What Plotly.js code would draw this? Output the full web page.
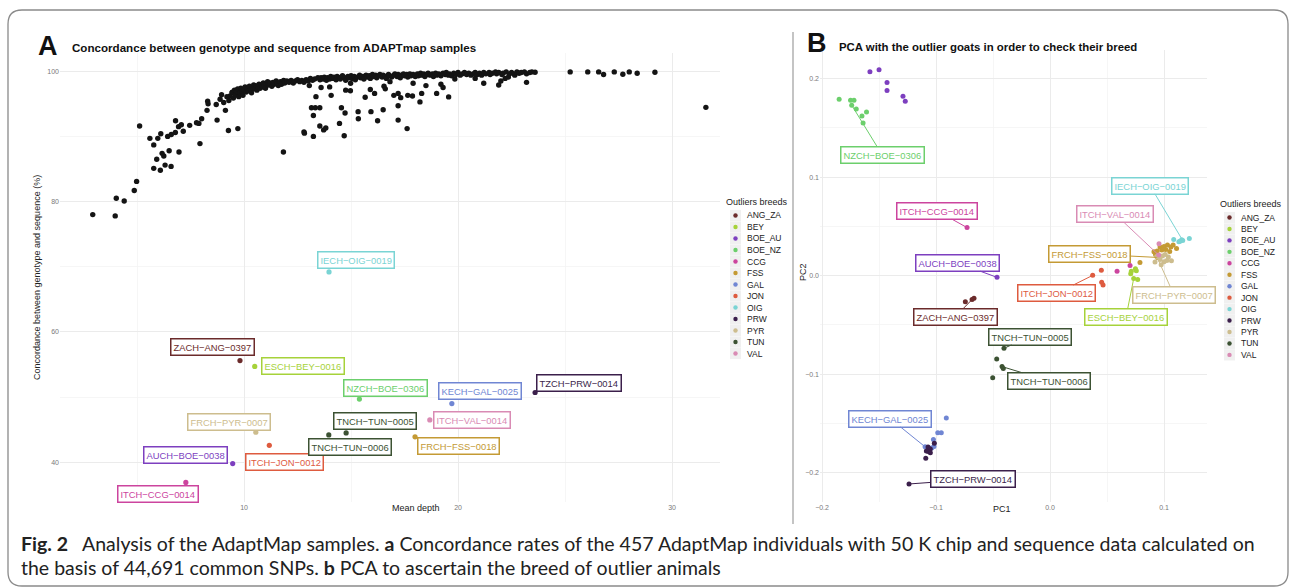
<!DOCTYPE html>
<html>
<head>
<meta charset="utf-8">
<script src="https://cdn.plot.ly/plotly-3.0.1.min.js"></script>
<style>html,body{margin:0;padding:0;background:#fff;}#chart{width:1293px;height:588px;}</style>
</head>
<body>
<div id="chart"></div>
<script>
// ---------- Panel A : black points (mean depth, concordance %) ----------
const depthA = [2.93,3.98,4.03,4.40,4.87,4.98,5.12,5.60,5.78,5.97,6.11,5.78,5.92,6.09,6.17,6.25,6.31,6.50,6.59,6.96,6.43,6.60,6.79,6.80,6.94,7.07,7.16,7.46,7.78,7.94,7.89,8.02,8.27,8.30,8.32,8.74,8.70,8.88,8.95,9.13,9.27,9.29,9.44,9.71,9.05,9.20,11.84,
13.05,13.36,13.15,13.33,13.54,13.24,12.80,12.82,13.24,13.54,13.72,13.82,13.60,14.07,14.00,14.46,14.55,14.72,14.68,14.75,14.98,14.97,15.33,15.34,15.66,15.93,15.90,16.10,16.24,16.50,16.54,16.60,16.82,17.00,17.20,17.20,17.20,17.32,17.62,17.65,17.87,18.22,18.30,19.00,19.56,17.90,18.50,19.20,19.30,19.85,20.80,21.20,21.90,22.00,22.20,22.35,22.65,23.20,
25.24,26.06,26.57,26.80,27.30,27.70,28.00,28.37,29.20,31.58,
9.35,9.45,9.50,9.55,9.60,9.65,9.70,9.75,9.80,9.85,9.90,9.95,10.00,10.05,10.10,10.15,10.20,10.25,10.30,10.35,10.40,10.45,10.50,
10.55,10.60,10.65,10.70,10.75,10.80,10.85,10.90,10.95,11.00,11.05,11.10,11.15,11.20,11.30,11.35,11.40,11.50,11.55,11.60,11.70,11.75,11.85,11.90,12.00,
12.10,12.20,12.30,12.40,12.50,12.60,12.70,12.80,12.90,13.00,13.10,13.20,13.30,13.45,
13.55,13.60,13.70,13.75,13.85,13.90,14.00,14.05,14.15,14.20,14.30,14.35,14.45,14.50,14.60,14.70,14.75,14.85,14.90,15.00,15.05,15.15,15.20,15.30,15.40,15.45,
15.55,15.60,15.70,15.75,15.85,15.90,16.00,16.05,16.15,16.20,16.30,16.35,16.45,16.50,16.60,16.65,16.75,16.80,16.90,17.00,17.05,17.15,17.20,17.30,17.35,17.45,17.50,17.60,17.65,17.75,17.80,17.90,18.00,
18.10,18.15,18.25,18.30,18.40,18.45,18.55,18.60,18.70,18.80,18.85,18.95,19.00,19.10,19.20,19.30,19.40,19.45,19.55,19.60,19.70,19.80,19.90,20.00,20.10,20.20,20.30,20.40,20.50,20.60,20.70,20.80,20.90,
21.00,21.10,21.20,21.30,21.45,21.50,21.60,21.75,21.80,21.90,22.05,22.10,22.25,22.40,22.50,22.60,22.75,22.85,22.95,23.10,23.20,23.35,23.45,23.60];
const concA = [78.0,77.8,80.5,80.1,81.7,83.1,91.6,89.7,88.7,89.7,90.4,85.1,86.5,84.8,87.4,87.0,85.6,87.8,85.4,87.6,90.0,90.3,90.6,92.4,91.5,91.8,90.8,91.7,92.1,88.9,92.0,92.7,94.0,95.4,95.0,92.5,94.9,95.7,96.4,94.0,90.9,95.5,96.7,91.2,95.2,96.1,87.6,
97.8,96.1,94.4,94.4,94.4,93.2,90.7,90.5,90.0,91.6,91.0,91.3,97.5,96.3,97.6,92.0,94.4,93.6,90.1,97.1,98.15,97.0,93.8,92.7,96.0,93.8,97.2,96.6,92.4,94.1,97.7,97.3,98.4,96.3,96.6,94.7,92.5,95.95,91.2,96.3,96.2,95.3,96.6,96.6,96.06,98.15,97.8,98.0,97.5,98.8,98.9,98.15,97.9,98.5,98.9,99.1,99.4,98.3,
99.9,99.9,99.9,99.5,99.9,99.55,99.9,99.7,99.85,94.46,
96.2,96.8,95.9,97.1,96.4,96.9,97.3,96.1,96.7,97.4,96.9,96.3,97.2,97.6,96.8,97.3,97.0,97.7,97.2,96.7,97.5,97.9,97.3,
97.8,97.1,97.6,98.0,97.4,97.9,97.6,98.2,97.8,97.4,98.1,98.4,97.9,98.2,97.7,98.3,98.0,98.5,98.1,97.8,98.4,98.0,98.6,98.2,98.5,
98.3,98.6,98.2,98.5,98.7,98.4,98.6,98.3,98.7,98.5,98.9,98.6,98.8,99.0,
98.7,99.0,98.8,99.1,98.6,99.0,98.8,99.2,98.9,99.1,98.7,99.2,99.0,98.8,99.3,99.0,98.6,99.2,99.0,99.3,98.9,99.2,98.7,99.1,99.4,99.0,
99.2,98.8,99.4,99.1,99.3,98.9,99.5,99.2,99.4,99.0,99.3,99.5,99.1,99.4,99.2,98.9,99.5,99.3,99.1,99.4,99.6,99.2,99.5,99.0,99.4,99.6,99.3,99.5,99.1,99.6,99.3,99.5,99.2,
99.6,99.3,99.7,99.4,99.6,99.2,99.5,99.7,99.4,99.6,99.2,99.7,99.4,99.6,99.3,99.7,99.5,99.8,99.4,99.6,99.3,99.7,99.5,99.8,99.4,99.6,99.8,99.5,99.7,99.4,99.6,99.8,99.5,
99.7,99.4,99.8,99.6,99.8,99.5,99.7,99.9,99.6,99.8,99.5,99.7,99.9,99.6,99.8,99.6,99.9,99.7,99.8,99.9,99.6,99.8,99.9,99.85];

// ---------- Breeds ----------
const breeds = ['ANG_ZA','BEY','BOE_AU','BOE_NZ','CCG','FSS','GAL','JON','OIG','PRW','PYR','TUN','VAL'];
const breedColors = ['#6B2B2B','#A6D23A','#7D3FBF','#6CCF6C','#CC449E','#C49A34','#7086D3','#DE5B3F','#7AD4D4','#3B1F4B','#CDBD8E','#3C5233','#D98BB4'];

// ---------- Panel A : outlier samples ----------
const outIds   = ['ZACH−ANG−0397','ESCH−BEY−0016','NZCH−BOE−0306','FRCH−PYR−0007','ITCH−JON−0012','AUCH−BOE−0038','ITCH−CCG−0014','TNCH−TUN−0005','TNCH−TUN−0006','KECH−GAL−0025','TZCH−PRW−0014','ITCH−VAL−0014','FRCH−FSS−0018','IECH−OIG−0019'];
const outBreed = ['ANG_ZA','BEY','BOE_NZ','PYR','JON','BOE_AU','CCG','TUN','TUN','GAL','PRW','VAL','FSS','OIG'];
const outDepth = [9.81,10.50,15.39,10.55,11.18,9.47,7.28,14.77,13.96,19.71,23.60,18.68,17.99,13.97];
const outConc  = [55.6,54.7,49.7,44.6,42.6,39.8,36.9,44.5,44.2,49.0,50.7,46.5,43.9,69.2];

// ---------- Panel B : PCA ----------
const pcBreed = ['BOE_AU','BOE_AU','BOE_AU','BOE_AU','BOE_AU','BOE_AU','BOE_AU',
 'BOE_NZ','BOE_NZ','BOE_NZ','BOE_NZ','BOE_NZ','BOE_NZ','BOE_NZ','BOE_NZ',
 'CCG','CCG','CCG',
 'ANG_ZA','ANG_ZA','ANG_ZA',
 'TUN','TUN','TUN','TUN','TUN',
 'JON','JON','JON','JON',
 'BEY','BEY','BEY','BEY','BEY','BEY',
 'FSS','FSS','FSS','FSS','FSS','FSS','FSS','FSS','FSS','FSS','FSS','FSS','FSS','FSS',
 'PYR','PYR','PYR','PYR','PYR','PYR','PYR','PYR','PYR','PYR','PYR',
 'VAL','VAL',
 'OIG','OIG','OIG','OIG','OIG','OIG',
 'GAL','GAL','GAL','GAL','GAL','GAL','GAL',
 'PRW','PRW','PRW','PRW','PRW','PRW','PRW','PRW'];
const pc1 = [-0.158,-0.150,-0.143,-0.143,-0.129,-0.127,-0.0465,
 -0.185,-0.175,-0.172,-0.174,-0.170,-0.161,-0.165,-0.164,
 -0.0728,0.0588,0.0702,
 -0.0743,-0.0684,-0.0667,
 -0.0404,-0.0468,-0.0503,-0.0421,-0.0410,
 0.0374,0.0450,0.0453,0.0465,
 0.0749,0.0757,0.0708,0.0713,0.0734,0.0769,
 0.0789,0.0912,0.0965,0.1000,0.1030,0.1060,0.1110,0.0980,0.0940,0.1015,0.0942,0.1050,0.1080,0.0925,
 0.0921,0.0965,0.1000,0.1038,0.0950,0.0985,0.1025,0.1065,0.0936,0.0975,0.1010,
 0.0956,0.0953,
 0.1085,0.1140,0.1155,0.1164,0.1222,0.1130,
 -0.0910,-0.0985,-0.0954,-0.1023,-0.1018,-0.1038,-0.1096,
 -0.1015,-0.1070,-0.1050,-0.1068,-0.1050,-0.1085,-0.1090,-0.1237];
const pc2 = [0.207,0.209,0.196,0.188,0.182,0.177,-0.0017,
 0.179,0.178,0.178,0.173,0.169,0.166,0.162,0.155,
 0.0488,0.0044,0.0104,
 -0.0266,-0.0242,-0.0229,
 -0.0737,-0.0845,-0.1037,-0.0923,-0.0943,
 0.0003,0.0054,-0.0067,-0.0094,
 0.0071,0.0051,0.0020,0.0044,-0.0030,-0.0040,
 0.0134,0.0242,0.0290,0.0295,0.0310,0.0290,0.0275,0.0260,0.0250,0.0265,0.0185,0.0245,0.0310,0.0215,
 0.0138,0.0165,0.0141,0.0189,0.0205,0.0200,0.0155,0.0152,0.0195,0.0110,0.0215,
 0.0323,0.0209,
 0.0367,0.0350,0.0365,0.0357,0.0377,0.0345,
 -0.1444,-0.1593,-0.1593,-0.1663,-0.1734,-0.1750,-0.1737,
 -0.1700,-0.1740,-0.1758,-0.1785,-0.1798,-0.1780,-0.1852,-0.2114];
const pcLabelIds   = ['NZCH−BOE−0306','ITCH−CCG−0014','AUCH−BOE−0038','ZACH−ANG−0397','TNCH−TUN−0005','TNCH−TUN−0006','ITCH−JON−0012','ESCH−BEY−0016','FRCH−FSS−0018','FRCH−PYR−0007','ITCH−VAL−0014','IECH−OIG−0019','KECH−GAL−0025','TZCH−PRW−0014'];
const pcLabelBreed = ['BOE_NZ','CCG','BOE_AU','ANG_ZA','TUN','TUN','JON','BEY','FSS','PYR','VAL','OIG','GAL','PRW'];
const pcLabelPC1   = [-0.174,-0.0728,-0.0465,-0.0684,-0.0404,-0.0421,0.0374,0.0734,0.0942,0.0936,0.0953,0.1164,-0.1096,-0.1237];
const pcLabelPC2   = [0.173,0.0488,-0.0017,-0.0242,-0.0737,-0.0923,0.0003,-0.0030,0.0185,0.0195,0.0209,0.0357,-0.1737,-0.2114];

// ---------- layout helpers (positions/styles) ----------
const W = 1293, H = 588;
const px = v => v / W, py = v => 1 - v / H;
const colorOf = b => breedColors[breeds.indexOf(b)];
const labelFont = 'Liberation Sans, Arial, sans-serif';

// label box centres for panel A (data units)
const labelPosA = [[8.52,57.7],[12.74,54.7],[16.59,51.4],[9.30,46.2],[11.88,40.1],[7.28,41.1],[6.00,35.2],[16.12,46.35],[14.95,42.3],[21.04,51.0],[25.67,52.1],[20.64,46.5],[20.01,42.5],[15.23,71.0]];
// label box centres for panel B (data units)
const labelPosB = [[-0.1474,0.1228],[-0.0991,0.0657],[-0.0810,0.0129],[-0.0833,-0.0419],[-0.0175,-0.0619],[-0.0006,-0.1069],[0.0059,-0.0179],[0.0667,-0.0419],[0.0342,0.0220],[0.1088,-0.0199],[0.0573,0.0623],[0.0877,0.0914],[-0.1401,-0.1452],[-0.0675,-0.2067]];

const traces = [];
traces.push({type:'scatter', mode:'markers', x: depthA, y: concA, xaxis:'x', yaxis:'y',
  marker:{color:'#141414', size:5.4}, hoverinfo:'skip'});
breeds.forEach((b, i) => {
  const xs = [], ys = [];
  outBreed.forEach((ob, k) => { if (ob === b) { xs.push(outDepth[k]); ys.push(outConc[k]); } });
  if (xs.length) traces.push({type:'scatter', mode:'markers', x: xs, y: ys, xaxis:'x', yaxis:'y',
    marker:{color: breedColors[i], size:5.2}, hoverinfo:'skip'});
  const xb = [], yb = [];
  pcBreed.forEach((pb, k) => { if (pb === b) { xb.push(pc1[k]); yb.push(pc2[k]); } });
  if (xb.length) traces.push({type:'scatter', mode:'markers', x: xb, y: yb, xaxis:'x2', yaxis:'y2',
    marker:{color: breedColors[i], size:5}, hoverinfo:'skip'});
});

const annotations = [];
const shapes = [];
const boxFont = 9.4;

// panel A labels
outIds.forEach((id, k) => {
  const c = colorOf(outBreed[k]);
  annotations.push({xref:'x', yref:'y', x: labelPosA[k][0], y: labelPosA[k][1], text: id, showarrow:false,
    font:{family:labelFont, size:boxFont, color:c}, bgcolor:'#ffffff', bordercolor:c, borderwidth:1.5, borderpad:2});
});
// panel B labels with segments
pcLabelIds.forEach((id, k) => {
  const c = colorOf(pcLabelBreed[k]);
  annotations.push({xref:'x2', yref:'y2', x: pcLabelPC1[k], y: pcLabelPC2[k], axref:'x2', ayref:'y2',
    ax: labelPosB[k][0], ay: labelPosB[k][1], text: id, showarrow:true, arrowhead:0, arrowwidth:1, arrowcolor:c, standoff:0,
    font:{family:labelFont, size:boxFont, color:c}, bgcolor:'#ffffff', bordercolor:c, borderwidth:1.5, borderpad:2});
});

// panel letters and titles
annotations.push({xref:'paper', yref:'paper', x:px(36), y:py(46), xanchor:'left', yanchor:'middle', text:'<b>A</b>', showarrow:false, font:{family:labelFont, size:27, color:'#111'}});
annotations.push({xref:'paper', yref:'paper', x:px(70), y:py(48), xanchor:'left', yanchor:'middle', text:'<b>Concordance between genotype and sequence from ADAPTmap samples</b>', showarrow:false, font:{family:labelFont, size:11.6, color:'#111'}});
annotations.push({xref:'paper', yref:'paper', x:px(805), y:py(43), xanchor:'left', yanchor:'middle', text:'<b>B</b>', showarrow:false, font:{family:labelFont, size:27, color:'#111'}});
annotations.push({xref:'paper', yref:'paper', x:px(837), y:py(47), xanchor:'left', yanchor:'middle', text:'<b>PCA with the outlier goats in order to check their breed</b>', showarrow:false, font:{family:labelFont, size:11.4, color:'#111'}});

// axis titles
annotations.push({xref:'paper', yref:'paper', x:px(390), y:py(515), text:'Mean depth', showarrow:false, font:{family:labelFont, size:9, color:'#222'}});
annotations.push({xref:'paper', yref:'paper', x:px(30), y:py(278), text:'Concordance between genotype and sequence (%)', textangle:-90, showarrow:false, font:{family:labelFont, size:9, color:'#222'}});
annotations.push({xref:'paper', yref:'paper', x:px(1013), y:py(516), text:'PC1', showarrow:false, font:{family:labelFont, size:9, color:'#222'}});
annotations.push({xref:'paper', yref:'paper', x:px(803), y:py(272), text:'PC2', textangle:-90, showarrow:false, font:{family:labelFont, size:9, color:'#222'}});

// manual legends
function legend(x0, yTitle, yFirst, step) {
  annotations.push({xref:'paper', yref:'paper', x:px(x0), y:py(yTitle), xanchor:'left', yanchor:'middle', text:'Outliers breeds', showarrow:false, font:{family:labelFont, size:9, color:'#222'}});
  breeds.forEach((b, i) => {
    const yc = yFirst + i * step;
    shapes.push({type:'rect', xref:'paper', yref:'paper', x0:px(x0+6), x1:px(x0+17), y0:py(yc-5.6), y1:py(yc+5.6), fillcolor:'#f0f0f0', line:{width:0}});
    shapes.push({type:'circle', xref:'paper', yref:'paper', x0:px(x0+9.3), x1:px(x0+13.7), y0:py(yc-2.2), y1:py(yc+2.2), fillcolor:breedColors[i], line:{width:0}});
    annotations.push({xref:'paper', yref:'paper', x:px(x0+21), y:py(yc), xanchor:'left', yanchor:'middle', text:b, showarrow:false, font:{family:labelFont, size:8.5, color:'#222'}});
  });
}
legend(724, 202, 215.5, 11.5);
legend(1218, 204, 217.5, 11.45);

// caption
const capFont = 'Lato, Open Sans, sans-serif';
annotations.push({xref:'paper', yref:'paper', x:px(19), y:py(543), xanchor:'left', yanchor:'middle', showarrow:false,
  text:'<b>Fig. 2</b>\u2002 Analysis of the AdaptMap samples. <b>a</b> Concordance rates of the 457 AdaptMap individuals with 50 K chip and sequence data calculated on',
  font:{family:capFont, size:19.5, color:'#222'}});
annotations.push({xref:'paper', yref:'paper', x:px(19), y:py(567), xanchor:'left', yanchor:'middle', showarrow:false,
  text:'the basis of 44,691 common SNPs. <b>b</b> PCA to ascertain the breed of outlier animals',
  font:{family:capFont, size:19.5, color:'#222'}});

// frame and divider
const x0 = px(8), x1 = px(1288), yT = py(10), yB = py(586), rx = 14/W, ry = 14/H;
shapes.push({type:'path', xref:'paper', yref:'paper', line:{color:'#8a8a8a', width:1.3},
  path:`M ${x0+rx},${yT} L ${x1-rx},${yT} Q ${x1},${yT} ${x1},${yT-ry} L ${x1},${yB+ry} Q ${x1},${yB} ${x1-rx},${yB} L ${x0+rx},${yB} Q ${x0},${yB} ${x0},${yB+ry} L ${x0},${yT-ry} Q ${x0},${yT} ${x0+rx},${yT} Z`});
shapes.push({type:'line', xref:'paper', yref:'paper', x0:px(793), x1:px(793), y0:py(32), y1:py(524), line:{color:'#c4c4c4', width:2}});

const tickF = {family:labelFont, size:7, color:'#7a7a7a'};
const baseAxis = {showgrid:true, gridcolor:'#ebebeb', gridwidth:1, zeroline:false, showline:false, ticks:'', tickfont:tickF, fixedrange:true};

const layout = {
  width:W, height:H, margin:{l:0, r:0, t:0, b:0}, paper_bgcolor:'#ffffff', plot_bgcolor:'#ffffff', showlegend:false,
  xaxis: Object.assign({}, baseAxis, {domain:[px(60), px(720)], range:[1.4, 32.24], tick0:0, dtick:10, anchor:'y',
    minor:{dtick:5, tick0:0, showgrid:true, gridcolor:'#f4f4f4', gridwidth:0.8}}),
  yaxis: Object.assign({}, baseAxis, {domain:[py(502), py(53)], range:[33.9, 102.8], tick0:0, dtick:20, anchor:'x',
    minor:{dtick:10, tick0:0, showgrid:true, gridcolor:'#f4f4f4', gridwidth:0.8}}),
  xaxis2: Object.assign({}, baseAxis, {domain:[px(820), px(1207)], range:[-0.2018, 0.1377], tick0:0, dtick:0.1, tickformat:'.1f', anchor:'y2',
    minor:{dtick:0.05, tick0:0, showgrid:true, gridcolor:'#f4f4f4', gridwidth:0.8}}),
  yaxis2: Object.assign({}, baseAxis, {domain:[py(502), py(50)], range:[-0.2297, 0.229], tick0:0, dtick:0.1, tickformat:'.1f', anchor:'x2',
    minor:{dtick:0.05, tick0:0, showgrid:true, gridcolor:'#f4f4f4', gridwidth:0.8}}),
  annotations: annotations,
  shapes: shapes
};

Plotly.newPlot('chart', traces, layout, {displayModeBar:false, staticPlot:true});
</script>
</body>
</html>
